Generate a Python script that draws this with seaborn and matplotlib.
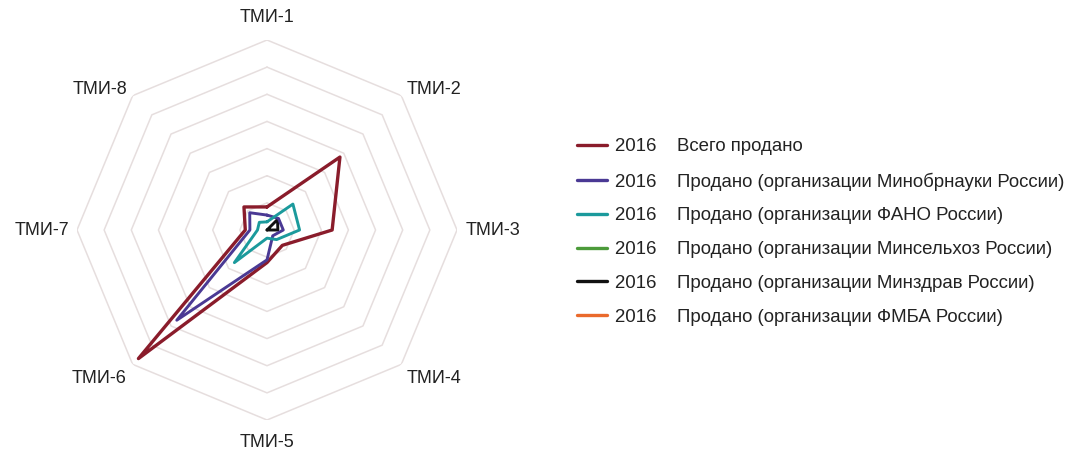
import numpy as np
import pandas as pd
import matplotlib
matplotlib.use('Agg')
import matplotlib.pyplot as plt
from matplotlib.lines import Line2D
import seaborn as sns

# оси радара
axis_labels = ['ТМИ-1', 'ТМИ-2', 'ТМИ-3', 'ТМИ-4', 'ТМИ-5', 'ТМИ-6', 'ТМИ-7', 'ТМИ-8']
year = '2016'
series_names = [
    'Всего продано',
    'Продано (организации Минобрнауки России)',
    'Продано (организации ФАНО России)',
    'Продано (организации Минсельхоз России)',
    'Продано (организации Минздрав России)',
    'Продано (организации ФМБА России)',
]
# значения по осям ТМИ-1..ТМИ-8 (оценка по картинке)
total = [0.85, 3.8, 2.4, 0.8, 1.2, 6.7, 0.8, 1.2]
minobr = [0.55, 0.6, 0.6, 0.3, 1.1, 4.7, 0.63, 0.9]
fano = [0.3, 1.35, 1.2, 0.5, 0.3, 1.7, 0.35, 0.4]
minselhoz = [0, 0, 0, 0, 0, 0, 0, 0]
minzdrav = [0, 0.55, 0.4, 0, 0, 0, 0, 0]
fmba = [0, 0, 0, 0, 0, 0, 0, 0]
ring_levels = [1, 2, 3, 4, 5, 6, 7]

colors = ['#8a1c2b', '#4a3994', '#1b9a9c', '#4c9b3a', '#111111', '#ea6a2c']
widths = [2.4, 2.1, 2.1, 2.1, 2.1, 2.1]

sns.set_theme(style='white')
plt.rcParams['font.family'] = ['Liberation Sans', 'DejaVu Sans']

fig = plt.figure(figsize=(10.69, 4.49), dpi=100)
ax = fig.add_axes([77 / 1069, 29 / 449, 380 / 1069, 380 / 449], projection='polar')
ax.set_theta_zero_location('N')
ax.set_theta_direction(-1)

n = len(axis_labels)
angles = np.arange(n) * 2 * np.pi / n
closed = np.append(angles, angles[0])

# восьмиугольная сетка
for lvl in ring_levels:
    ax.plot(closed, [lvl] * (n + 1), color='#e6dede', lw=1.1, zorder=1)

all_vals = [total, minobr, fano, minselhoz, minzdrav, fmba]
rows = []
for name, vals in zip(series_names, all_vals):
    for i, t in enumerate(closed):
        rows.append({'series': name, 'theta': t, 'r': vals[i % n], 'order': i})
df = pd.DataFrame(rows)

# чёрная линия под остальными
draw_order = [5, 3, 4, 0, 1, 2]
for z, k in enumerate(draw_order):
    sub = df[df['series'] == series_names[k]]
    sns.lineplot(data=sub, x='theta', y='r', sort=False, estimator=None,
                 color=colors[k], lw=widths[k], ax=ax, zorder=3 + z)

ax.set_ylim(0, 7)
ax.set_xticks([])
ax.set_yticks([])
ax.set_xlabel('')
ax.set_ylabel('')
ax.grid(False)
ax.spines['polar'].set_visible(False)

# подписи осей
for ang, lab in zip(angles, axis_labels):
    deg = np.degrees(ang)
    if deg in (0, 180):
        ax.text(ang, 7.5, lab, ha='center', va='bottom' if deg == 0 else 'top', fontsize=13, color='#222222')
    elif deg == 90 or deg == 270:
        ax.text(ang, 7.3, lab, ha='left' if deg == 90 else 'right', va='center', fontsize=13, color='#222222')
    else:
        ha = 'left' if deg < 180 else 'right'
        va = 'center' if deg in (45, 315) else 'top'
        ax.text(ang, 7.3, lab, ha=ha, va=va, fontsize=13, color='#222222')

handles = [Line2D([0], [0], color=c, lw=2.4) for c in colors]
labels = [f'{year}    {s}' for s in series_names]
fig.legend(handles, labels, loc='upper left', bbox_to_anchor=(570 / 1069, 1 - 131 / 449),
           frameon=False, fontsize=13.4, handlelength=1.6, handletextpad=0.4,
           labelspacing=0.9, borderaxespad=0, labelcolor='#222222')

fig.savefig('out.png', dpi=100)
